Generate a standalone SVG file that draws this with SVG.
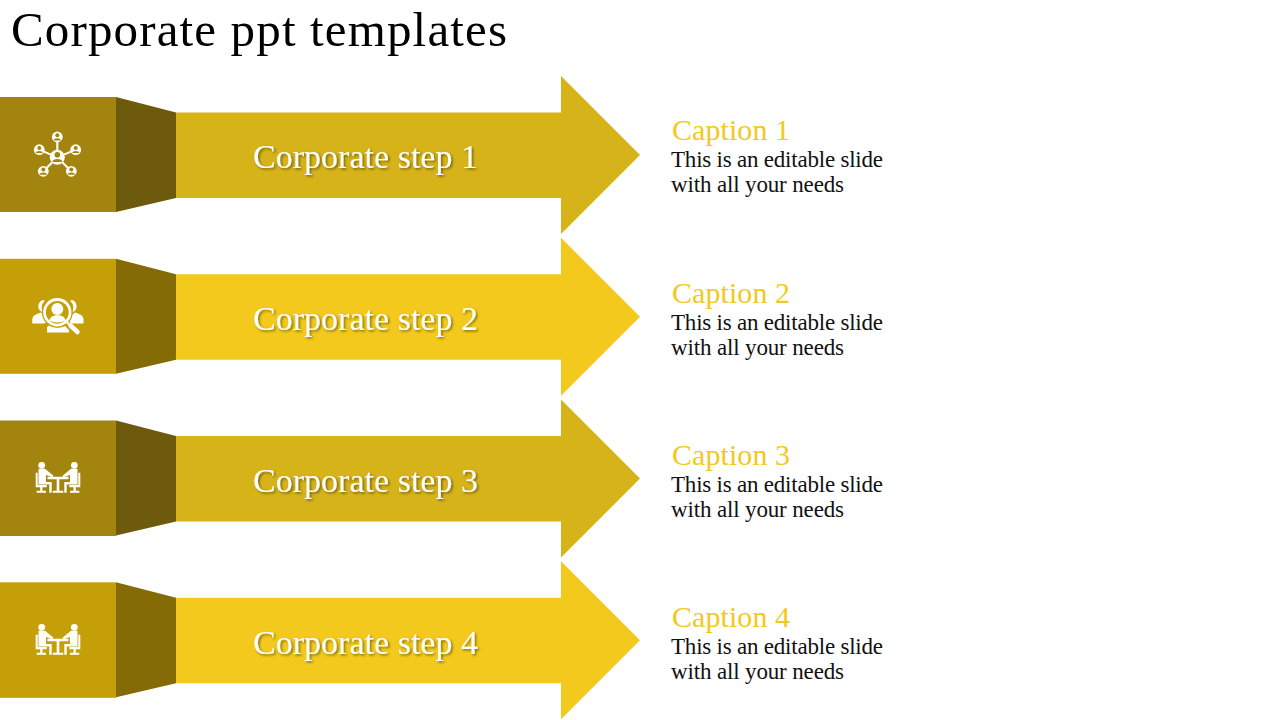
<svg xmlns="http://www.w3.org/2000/svg" width="1280" height="720" viewBox="0 0 1280 720">
<style>
text{font-family:"Liberation Serif","Times New Roman",serif}
.title{font-size:49px;fill:#000}
.step{font-size:34px;fill:#fff;filter:url(#sh)}
.cap{font-size:30px;fill:#F2C91C}
.body{font-size:23px;fill:#111}
.a1{fill:#D6B319}.s1{fill:#A2840F}.d1{fill:#6E5A0D}
.a2{fill:#F2C91C}.s2{fill:#C49F08}.d2{fill:#846B05}
.ln{stroke:#fff;fill:none}
.w{fill:#fff}
</style>
<defs>
<filter id="sh" x="-5%" y="-20%" width="110%" height="150%"><feDropShadow dx="1.5" dy="1.5" stdDeviation="1" flood-color="#000" flood-opacity="0.45"/></filter>
<path id="arrow" d="M176 112.500H561V76L640 155L561 234V198H176Z"/>
<path id="side" d="M116 97L176 112.500V198L116 212Z"/>
<g id="person"><circle cx="0" cy="-1.800" r="2"/><path d="M-3.600 3.400C-3.600 .6 3.600 .6 3.600 3.400Z"/></g>
<g id="half">
<circle cx="41.700" cy="465.300" r="3.400"/>
<path d="M38.500 468.700H45L53.500 475.800L52.500 477.300L46 475V482H51.700V492.700H49.300V484.500H38.500Z"/>
<path d="M35.700 472.700H37.700V485H46.700V487.300H42.500V490.700H46V492.700H36.700V490.700H40.200V487.300H35.700Z"/>
</g>
<g id="meet" class="w">
<use href="#half"/><use href="#half" transform="translate(116 0) scale(-1 1)"/>
<path d="M47.500 476.700H68.500V479.300H59.300V490.700H63.300V492.700H52.700V490.700H56.700V479.300H47.500Z"/>
</g>
</defs>
<text class="title" x="11" y="45.500" textLength="496" lengthAdjust="spacing">Corporate ppt templates</text>
<g id="step-1">
<rect class="s1" x="0" y="97" width="116" height="115"/><use href="#side" class="d1"/><use href="#arrow" class="a1"/>
<g id="icon-1">
<g class="ln" stroke-width="2"><path d="M57.300 157.300V137M57.300 157.300L39.300 149.700M57.300 157.300L75.700 149.700M57.300 157.300L43.300 171.300M57.300 157.300L71.300 171.300"/></g>
<g class="w"><circle cx="57.300" cy="137" r="5.400"/><circle cx="39.300" cy="149.700" r="5.400"/><circle cx="75.700" cy="149.700" r="5.400"/><circle cx="43.300" cy="171.300" r="5.400"/><circle cx="71.300" cy="171.300" r="5.400"/><circle cx="57.300" cy="157.300" r="7.500"/></g>
<g class="s1"><use href="#person" x="57.300" y="137"/><use href="#person" x="39.300" y="149.700"/><use href="#person" x="75.700" y="149.700"/><use href="#person" x="43.300" y="171.300"/><use href="#person" x="71.300" y="171.300"/><use href="#person" transform="translate(57.300 157.300) scale(1.400)"/></g>
</g>
<text class="step" x="253" y="168" textLength="225" lengthAdjust="spacing">Corporate step 1</text>
</g>
<g id="step-2">
<g transform="translate(0 161.800)"><rect class="s2" x="0" y="97" width="116" height="115"/><use href="#side" class="d2"/><use href="#arrow" class="a2"/></g>
<g id="icon-2">
<path class="w" d="M43 300C39 301 38 305 38.500 308C39 310 41 312 43 312.500C41 308 41 304 45 301ZM32.300 323.500V319C33 315 37 314 41 312.500L44 315C45 318 47 321 47 322L44 323.500ZM72 300C76 301 77 305 76.500 308C76 310 74 312 72 312.500C74 308 74 304 70 301ZM83.500 323.500V319C83 315 79 314 75 312.500L72 315C71 318 69 321 69 322L72 323.500ZM47 332.500V327L50 325C55 328 60 328 65 326L69 330V332.500Z"/>
<circle cx="57.300" cy="312.300" r="15.500" class="s2"/>
<circle cx="57.300" cy="312.300" r="12.800" fill="none" stroke="#fff" stroke-width="2.800"/>
<circle class="w" cx="57.300" cy="309" r="6"/>
<path class="w" d="M49.500 320.500C50 313.500 65 313.500 65.500 320.500C61 323 54 323 49.500 320.500Z"/>
<path class="ln" stroke-width="1.800" d="M66 321.500L72 327"/>
<path class="ln" stroke-width="4.500" stroke-linecap="round" d="M70.500 325.500L77.500 332"/>
</g>
<text class="step" x="253" y="330" textLength="225" lengthAdjust="spacing">Corporate step 2</text>
</g>
<g id="step-3">
<g transform="translate(0 323.500)"><rect class="s1" x="0" y="97" width="116" height="115.500"/><use href="#side" class="d1"/><use href="#arrow" class="a1"/></g>
<use id="icon-3" href="#meet"/>
<text class="step" x="253" y="492" textLength="225" lengthAdjust="spacing">Corporate step 3</text>
</g>
<g id="step-4">
<g transform="translate(0 485.300)"><rect class="s2" x="0" y="97" width="116" height="115.500"/><use href="#side" class="d2"/><use href="#arrow" class="a2"/></g>
<use id="icon-4" href="#meet" y="162"/>
<text class="step" x="253" y="654" textLength="225" lengthAdjust="spacing">Corporate step 4</text>
</g>
<g id="caption-1"><text class="cap" x="672" y="140" textLength="118" lengthAdjust="spacing">Caption 1</text><text class="body" x="671" y="167" textLength="212" lengthAdjust="spacing">This is an editable slide</text><text class="body" x="671" y="192" textLength="173" lengthAdjust="spacing">with all your needs</text></g>
<g id="caption-2"><text class="cap" x="672" y="303" textLength="118" lengthAdjust="spacing">Caption 2</text><text class="body" x="671" y="330" textLength="212" lengthAdjust="spacing">This is an editable slide</text><text class="body" x="671" y="355" textLength="173" lengthAdjust="spacing">with all your needs</text></g>
<g id="caption-3"><text class="cap" x="672" y="465" textLength="118" lengthAdjust="spacing">Caption 3</text><text class="body" x="671" y="492" textLength="212" lengthAdjust="spacing">This is an editable slide</text><text class="body" x="671" y="517" textLength="173" lengthAdjust="spacing">with all your needs</text></g>
<g id="caption-4"><text class="cap" x="672" y="627" textLength="118" lengthAdjust="spacing">Caption 4</text><text class="body" x="671" y="654" textLength="212" lengthAdjust="spacing">This is an editable slide</text><text class="body" x="671" y="679" textLength="173" lengthAdjust="spacing">with all your needs</text></g>
</svg>
